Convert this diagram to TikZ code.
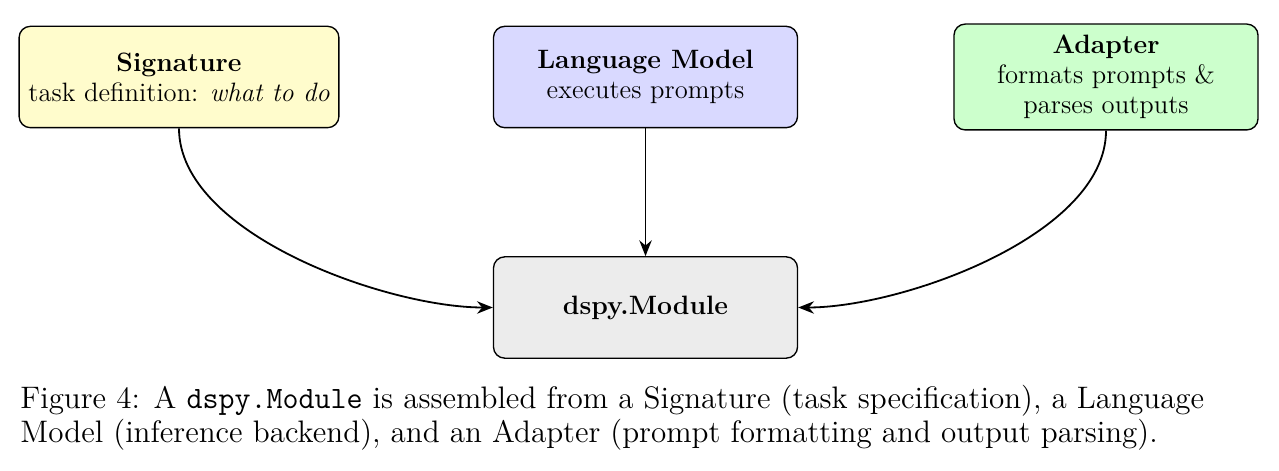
\documentclass[tikz,border=0pt]{standalone}
\usetikzlibrary{arrows.meta,positioning}

\begin{document}
\begin{tikzpicture}[x=0.444pt,y=0.444pt,
    part/.style={draw,semithick,rounded corners=5pt,align=center,
      font=\fontsize{11.8}{13.3}\selectfont,
      minimum width=135pt,minimum height=45pt,inner sep=2pt},
    link/.style={-{Stealth[length=7pt,width=5.5pt]},thick}]
    \useasboundingbox (0,0) rectangle (1279,470);
    \node[part,fill=yellow!20,minimum width=142pt](sig)at(179,393)
      {\textbf{Signature}\\task definition: \emph{what to do}};
    \node[part,fill=blue!15](lm)at(645.5,393)
      {\textbf{Language Model}\\executes prompts};
    \node[part,fill=green!20,minimum height=47pt](adp)at(1106,393)
      {\textbf{Adapter}\\formats prompts \&\\parses outputs};
    \node[part,fill=gray!15](mod)at(645.5,162.5){\textbf{dspy.Module}};
    \draw[link](sig.south)to[out=-90,in=180,looseness=0.75](mod.west);
    \draw[link](lm.south)--(mod.north);
    \draw[link](adp.south)to[out=-90,in=0,looseness=0.75](mod.east);
    \node[anchor=base west,align=left,inner sep=0pt,
      font=\fontsize{13.8}{12.9}\selectfont](cap)at(20,28)
      {Figure 4: A \texttt{dspy.Module} is assembled from a Signature (task specification), a Language\\
       Model (inference backend), and an Adapter (prompt formatting and output parsing).};
  \end{tikzpicture}
\end{document}
